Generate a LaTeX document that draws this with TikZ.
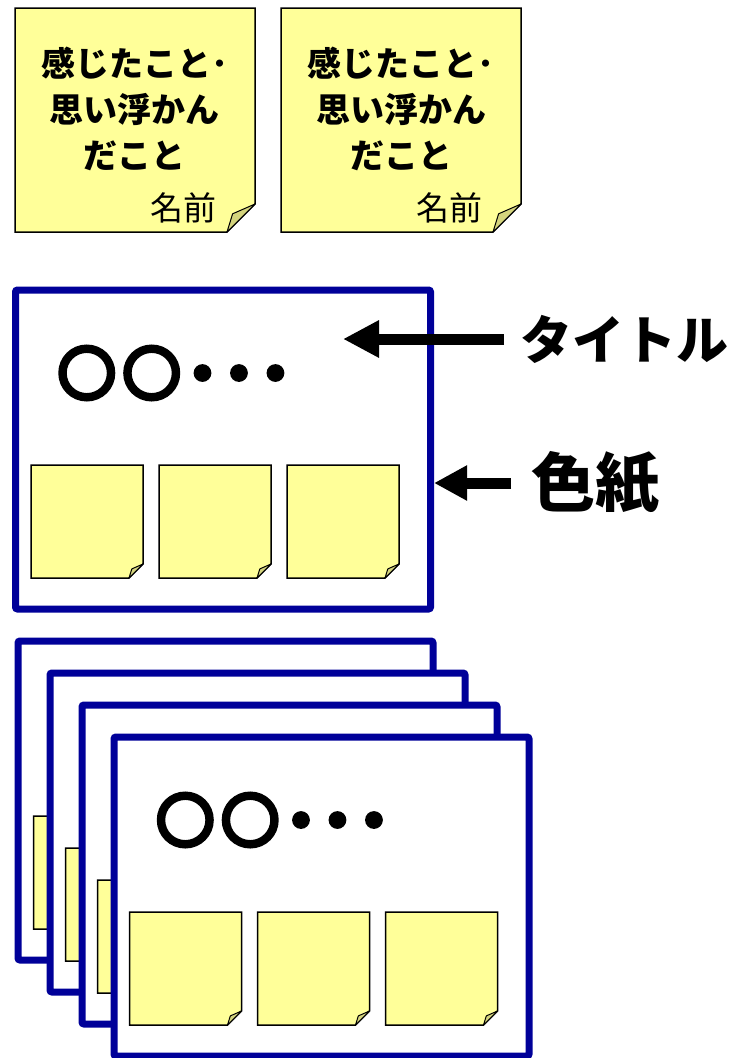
\documentclass[tikz,border=0pt]{standalone}
\usepackage{fontspec}
\newfontfamily\jp{Noto Sans CJK JP}
\newfontfamily\jpheavy{Noto Sans CJK JP}[FakeBold=10, LetterSpace=14]
\usetikzlibrary{arrows.meta,calc}
\definecolor{sheetblue}{RGB}{0,0,153}
\definecolor{notey}{RGB}{255,255,153}
\definecolor{foldy}{RGB}{212,212,125}
\tikzset{
  sheet/.style={draw=sheetblue, line width=7pt, fill=white, rounded corners=2pt,
    minimum width=415pt, minimum height=319pt, inner sep=0pt},
  notebody/.style={fill=notey, draw=black, line width=1.5pt, line join=miter},
  notefold/.style={fill=foldy, draw=black, line width=1pt, line join=round},
  bigarrow/.style={line width=11pt, -{Triangle[length=36pt,width=35pt]}},
  smallarrow/.style={line width=11pt, -{Triangle[length=33pt,width=33pt]}},
  plain/.style={inner sep=0pt, outer sep=0pt},
  sheettitle/.style={plain, font=\jpheavy\bfseries\fontsize{57}{57}\selectfont},
}
% name, cx, cy, width, height, fold
\newcommand\stickynote[6]{%
  \node[plain, minimum width=#4pt, minimum height=#5pt] (#1) at (#2,#3) {};
  \draw[notebody] (#1.north west) -- (#1.north east) -- ([yshift=#6pt]#1.south east)
    -- ([xshift=-#6pt]#1.south east) -- (#1.south west) -- cycle;
  \draw[notefold] ([xshift=-#6pt]#1.south east)
    -- ([xshift={-0.8*#6pt}, yshift={0.65*#6pt}]#1.south east)
    -- ([yshift=#6pt]#1.south east) -- cycle;
}
% name, cx, cy, title-visible (1/0)
\newcommand\colorsheet[4]{%
  \begin{scope}[shift={(#2,#3)}]
    \node[sheet] (#1) at (0,0) {};
    \ifnum#4=1
      \node[sheettitle] (#1t) at (-49,-76.5) {○○･･･};
    \fi
    \stickynote{#1a}{-136}{72}{112}{113}{14}
    \stickynote{#1b}{-8}{72}{112}{113}{14}
    \stickynote{#1c}{120}{72}{112}{113}{14}
  \end{scope}
}
\begin{document}
\begin{tikzpicture}[x=1pt,y=-1pt]
  \useasboundingbox (0,0) rectangle (731,1058);
  % top sticky notes
  \stickynote{n1}{135}{120}{240}{224}{28}
  \node[plain, align=center, font=\jp\bfseries\fontsize{34}{46}\selectfont] (n1txt) at (135,109)
    {感じたこと･\\思い浮かん\\だこと};
  \node[plain, font=\jp\fontsize{33}{33}\selectfont] (n1name) at (183,208) {名前};
  \stickynote{n2}{401}{120}{240}{224}{28}
  \node[plain, align=center, font=\jp\bfseries\fontsize{34}{46}\selectfont] (n2txt) at (401,109)
    {感じたこと･\\思い浮かん\\だこと};
  \node[plain, font=\jp\fontsize{33}{33}\selectfont] (n2name) at (449,208) {名前};
  % single sheet with labels
  \colorsheet{s0}{223}{449.5}{1}
  \node[plain, font=\jp\bfseries\fontsize{52}{52}\selectfont] (lbltitle) at (624,339) {タイトル};
  \coordinate (titletip) at (343,339);
  \draw[bigarrow] ([xshift=-16pt]lbltitle.west) -- (titletip);
  \node[plain, font=\jp\bfseries\fontsize{64}{64}\selectfont] (lblsheet) at (595,483) {色紙};
  \draw[smallarrow] ([xshift=-20pt]lblsheet.west) -- (s0.east |- lblsheet.west);
  % stack of sheets (titles of the rear sheets are hidden)
  \colorsheet{s1}{225.5}{800.5}{0}
  \colorsheet{s2}{257.5}{832.5}{0}
  \colorsheet{s3}{289.5}{864.5}{0}
  \colorsheet{s4}{321.5}{896.5}{1}
\end{tikzpicture}
\end{document}
